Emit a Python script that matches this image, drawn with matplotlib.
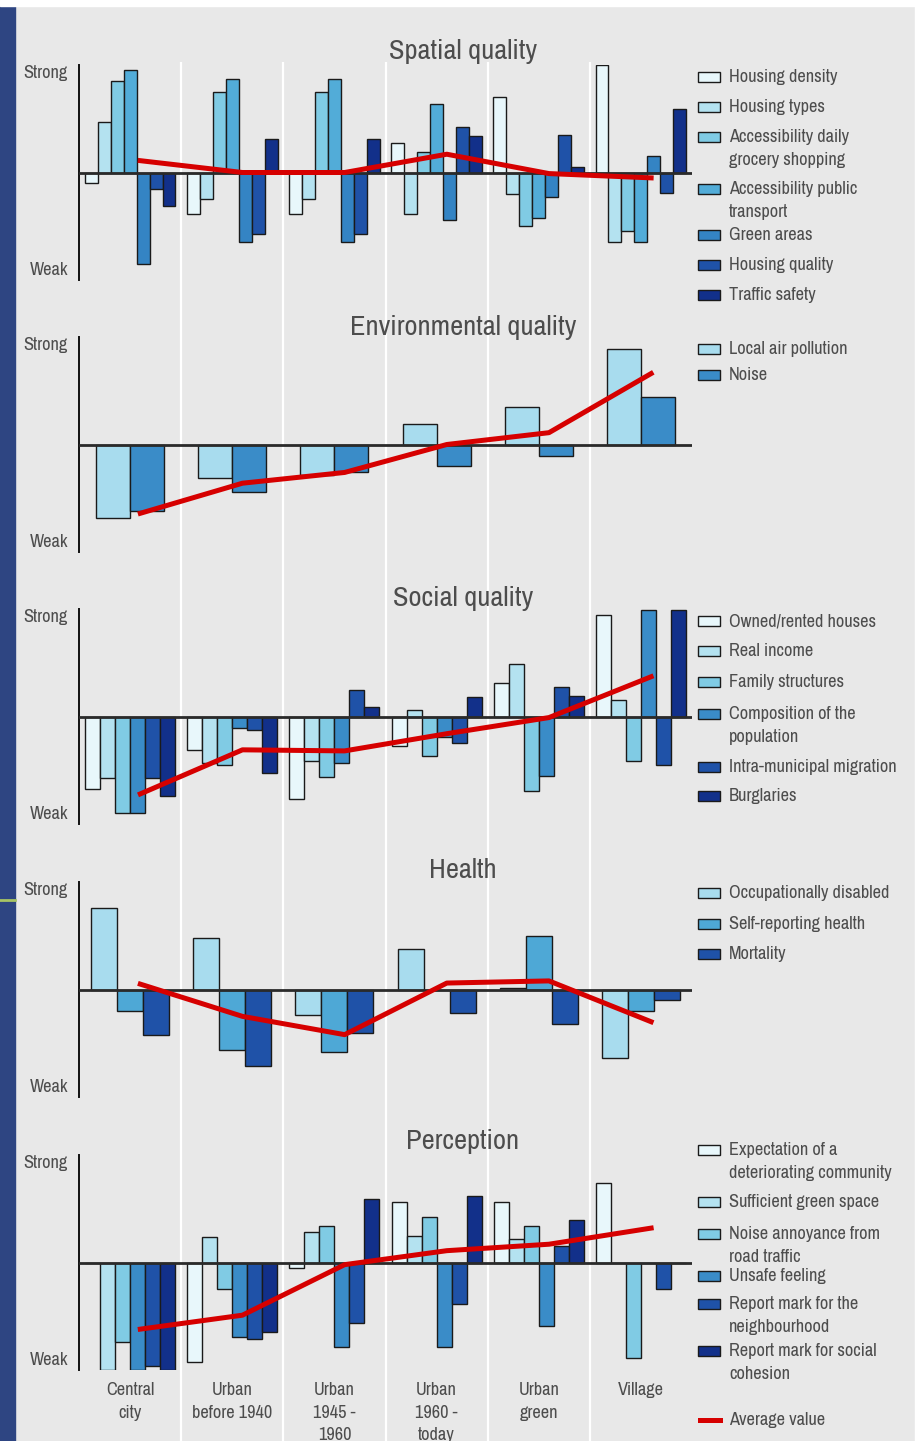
import matplotlib
matplotlib.use("Agg")
import matplotlib.pyplot as plt
from matplotlib import font_manager
from matplotlib.font_manager import FontProperties
from matplotlib.patches import Rectangle
from matplotlib.lines import Line2D

# ---- data (scores on a Weak -100 .. Strong +100 scale) ----
districts = ["Central\ncity", "Urban\nbefore 1940", "Urban\n1945 -\n1960",
             "Urban\n1960 -\ntoday", "Urban\ngreen", "Village"]

spatial_labels = ["Housing density", "Housing types",
                  "Accessibility daily\ngrocery shopping",
                  "Accessibility public\ntransport", "Green areas",
                  "Housing quality", "Traffic safety"]
spatial_values = [
    [-10, -39, -39, 27, 70, 100],
    [47, -25, -25, -39, -20, -65],
    [85, 75, 75, 19, -50, -54],
    [95, 87, 87, 64, -42, -65],
    [-85, -65, -65, -44, -23, 15],
    [-15, -57, -57, 42, 35, -19],
    [-31, 31, 31, 34, 5, 59],
]
spatial_avg = [11, 0, 0, 17, -1, -5]

env_labels = ["Local air pollution", "Noise"]
env_values = [
    [-68, -31, -28, 19, 35, 89],
    [-62, -44, -26, -20, -11, 44],
]
env_avg = [-64, -36, -26, 0, 11, 66]

social_labels = ["Owned/rented houses", "Real income", "Family structures",
                 "Composition of the\npopulation", "Intra-municipal migration",
                 "Burglaries"]
social_values = [
    [-67, -31, -77, -27, 31, 94],
    [-57, -43, -41, 6, 49, 15],
    [-90, -45, -56, -37, -69, -41],
    [-90, -11, -43, -19, -55, 99],
    [-57, -13, 25, -25, 27, -45],
    [-74, -53, 9, 18, 19, 99],
]
social_avg = [-72, -31, -32, -16, -1, 37]

health_labels = ["Occupationally disabled", "Self-reporting health", "Mortality"]
health_values = [
    [76, 48, -24, 38, 1, -64],
    [-20, -56, -58, 0, 50, -20],
    [-42, -71, -40, -22, -32, -10],
]
health_avg = [5, -25, -42, 6, 8, -30]

perception_labels = ["Expectation of a\ndeteriorating community",
                     "Sufficient green space",
                     "Noise annoyance from\nroad traffic", "Unsafe feeling",
                     "Report mark for the\nneighbourhood",
                     "Report mark for social\ncohesion"]
perception_values = [
    [0, -93, -5, 56, 56, 74],
    [-100, 24, 28, 25, 22, 0],
    [-74, -25, 34, 42, 34, -89],
    [-100, -69, -79, -79, -59, 0],
    [-96, -71, -56, -39, 15, -25],
    [-100, -65, 59, 62, 40, 0],
]
perception_avg = [-62, -49, -2, 11, 17, 32]

# ---- styling ----
W, H = 919, 1441
BG = "#e8e8e8"
TXT = "#4d4d4d"
RED = "#d60000"
pal7 = ["#e8f7fb", "#b4e2f0", "#80cbe4", "#52acd8", "#3484c4", "#1f52a8", "#12308a"]
pal6 = ["#e8f7fb", "#b4e2f0", "#80cbe4", "#3a8cc8", "#1f52a8", "#12308a"]


def pick_font():
    """Prefer a condensed sans face (the original uses a narrow typeface)."""
    faces = font_manager.fontManager.ttflist
    for want in ("Liberation Sans Narrow", "DejaVu Sans Condensed"):
        for f in faces:
            if f.name == want and f.style == "normal" and f.weight == 400:
                return FontProperties(fname=f.fname), 1.0
    for f in faces:
        nm = f.name.lower()
        if ("condensed" in nm or "narrow" in nm) and f.style == "normal" \
                and f.weight == 400 and "mono" not in nm:
            return FontProperties(fname=f.fname), 1.0
    return FontProperties(family="DejaVu Sans"), 0.75


FONT, SCALE = pick_font()
T_TITLE, T_TEXT = 20.5, 13.2
LINE_PX = 22.5          # baseline-to-baseline distance of wrapped labels


def fp(size):
    p = FONT.copy()
    p.set_size(size * SCALE)
    return p


fig = plt.figure(figsize=(W / 100, H / 100), dpi=100, facecolor=BG)


def px_axes(left, top, width, height):
    return fig.add_axes([left / W, 1 - (top + height) / H, width / W, height / H])


def ftext(x, y, s, size, **kw):
    fig.text(x / W, 1 - y / H, s, fontproperties=fp(size), color=TXT, **kw)


def block(x, y_first, s, size, ha="left"):
    """Multi-line label whose first line is centred on y_first (px)."""
    nl = s.count("\n")
    ls = LINE_PX / (size * SCALE * 100 / 72 * 0.81)
    ftext(x, y_first + nl * LINE_PX / 2, s, size, ha=ha, va="center",
          linespacing=ls, multialignment=ha)


# frame: blue strip on the left, white edges top / right
fig.patches.append(Rectangle((0, 0), 15 / W, 1 - 6 / H, transform=fig.transFigure,
                             color="#2e4582", zorder=0))
fig.patches.append(Rectangle((0, 1 - 6 / H), 1, 6 / H, transform=fig.transFigure,
                             color="white", zorder=0))
fig.patches.append(Rectangle((915 / W, 0), 4 / W, 1, transform=fig.transFigure,
                             color="white", zorder=0))
fig.lines.append(Line2D([0, 15 / W], [1 - 900 / H] * 2, transform=fig.transFigure,
                        color="#a8c464", lw=2))

# white separators between the district groups, running through all panels
bg = px_axes(79, 62, 613, H - 62)
bg.set_xlim(0, 6)
bg.set_ylim(0, 1)
bg.axis("off")
for b in range(1, 6):
    bg.axvline(b, color="white", lw=1.6)

panels = [
    ("Spatial quality", spatial_labels, spatial_values, spatial_avg, pal7, 0.127,
     65, 52, [77, 107, 137, 189, 235, 265, 295]),
    ("Environmental quality", env_labels, env_values, env_avg,
     ["#a8dcee", "#3a8cc8"], 0.333, 337, 327, [349, 375]),
    ("Social quality", social_labels, social_values, social_avg, pal6, 0.147,
     609, 598, [621, 651, 682, 714, 767, 796]),
    ("Health", health_labels, health_values, health_avg,
     ["#a8dcee", "#4ea8d6", "#1f52a8"], 0.255, 882, 870, [893, 924, 954]),
    ("Perception", perception_labels, perception_values, perception_avg, pal6, 0.147,
     1155, 1142, [1150, 1202, 1234, 1276, 1304, 1351]),
]

for title, labels, values, avg, colors, bw, top, ty, leg_y in panels:
    ax = px_axes(79, top, 613, 215)
    ax.set_facecolor("none")
    ax.set_xlim(0, 6)
    ax.set_ylim(-100, 100)
    ax.set_xticks([])
    ax.set_yticks([])
    for s in ("top", "right", "bottom"):
        ax.spines[s].set_visible(False)
    ax.spines["left"].set_linewidth(1.4)
    ax.spines["left"].set_color("#111111")

    n = len(values)
    for k, (vals, col) in enumerate(zip(values, colors)):
        xs = [i + 0.5 + (k - (n - 1) / 2) * bw for i in range(6)]
        ax.bar(xs, vals, width=bw, color=col, edgecolor="#1a1a1a", linewidth=1.0,
               zorder=2)
    ax.axhline(0, color="#2a2a2a", lw=2.0, zorder=3)
    ax.plot([i + 0.6 for i in range(6)], avg, color=RED, lw=3.6, zorder=4,
            solid_joinstyle="round")

    ftext(463, ty, title, T_TITLE, ha="center", va="center")
    ftext(68, top + 8, "Strong", T_TEXT, ha="right", va="center")
    ftext(68, top + 205, "Weak", T_TEXT, ha="right", va="center")

    for lab, col, y in zip(labels, colors, leg_y):
        fig.patches.append(Rectangle((698 / W, 1 - (y + 5) / H), 22 / W, 10 / H,
                                     transform=fig.transFigure, facecolor=col,
                                     edgecolor="#1a1a1a", lw=1.0))
        block(729, y, lab, T_TEXT)

# average legend entry
fig.lines.append(Line2D([700 / W, 720 / W], [1 - 1420 / H] * 2,
                        transform=fig.transFigure, color=RED, lw=3.6))
block(729, 1420, "Average value", T_TEXT)

# district labels under the last panel
for i, name in enumerate(districts):
    block(79 + (i + 0.5) * 613 / 6, 1390, name, T_TEXT, ha="center")

fig.savefig("out.png", dpi=100, facecolor=BG)
